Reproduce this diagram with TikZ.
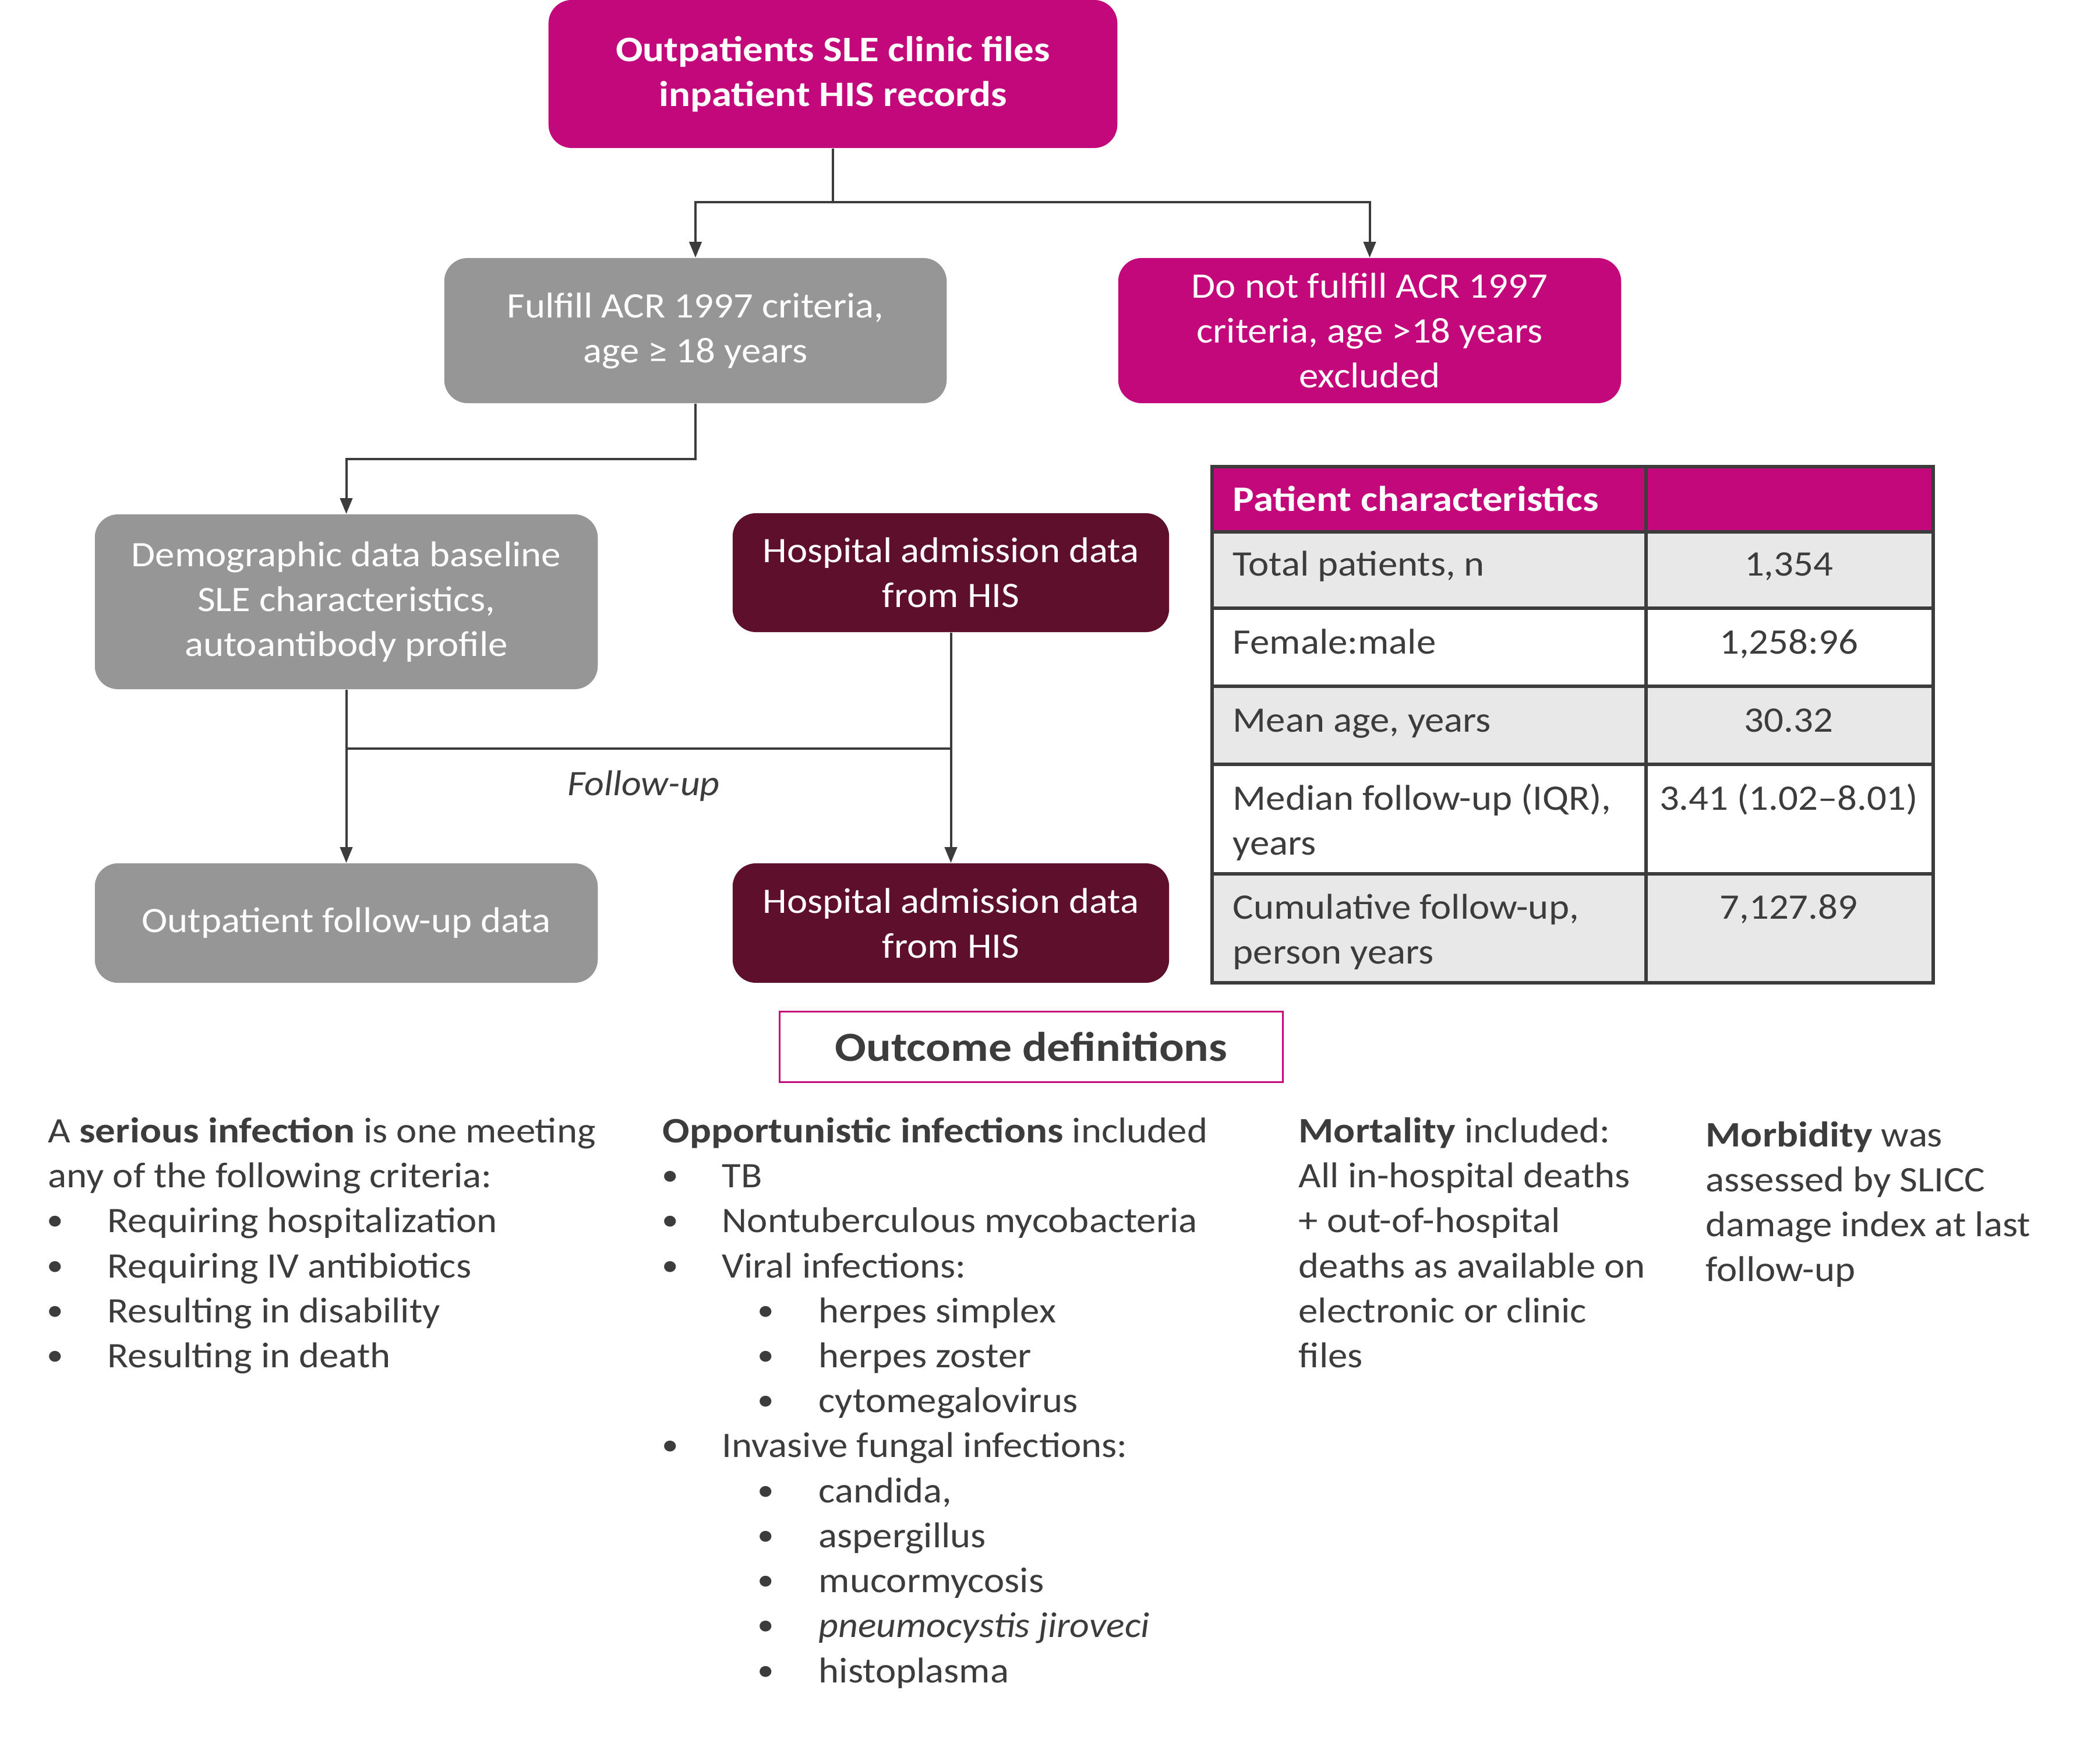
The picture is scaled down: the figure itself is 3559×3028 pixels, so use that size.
\documentclass[tikz,border=0pt]{standalone}
\usepackage{fontspec}
\setmainfont{Carlito}[UprightFeatures={FakeStretch=1.085}, BoldFeatures={FakeStretch=1.12}, ItalicFeatures={FakeStretch=1.07}, BoldItalicFeatures={FakeStretch=1.12}]
\usetikzlibrary{arrows.meta}
\definecolor{mag}{HTML}{C3087C}
\definecolor{boxgray}{HTML}{969696}
\definecolor{maroon}{HTML}{5E0F2C}
\definecolor{ink}{HTML}{3C3C3C}
\definecolor{rowgray}{HTML}{E8E8E8}
\newcommand{\bodyfont}{\fontsize{17.5}{21.9}\selectfont}
\newcommand{\bul}{\raisebox{0.05em}{\fontsize{15}{15}\selectfont •}}
\begin{document}
\begin{tikzpicture}[x=0.01cm,y=-0.01cm,
  fbox/.style={rounded corners=0.4cm, inner sep=0pt, align=center, text=white, font=\bodyfont},
  graybox/.style={fbox, fill=boxgray},
  magbox/.style={fbox, fill=mag},
  darkbox/.style={fbox, fill=maroon},
  conn/.style={draw=ink, line width=0.04cm},
  arr/.style={conn, -{Triangle[length=0.27cm,width=0.21cm]}},
  txtline/.style={font=\bodyfont, text=ink, anchor=base west, inner sep=0pt},
  valtxt/.style={font=\bodyfont, text=ink, anchor=base, inner sep=0pt},
  tabline/.style={draw=ink, line width=0.06cm},
]
\useasboundingbox (0,0) rectangle (3559,3028);
\fill[white] (0,0) rectangle (3559,3028);

% flow boxes
\node[magbox, minimum width=9.76cm, minimum height=2.54cm, font=\bodyfont\bfseries] (top) at (1430,127) {Outpatients SLE clinic files\\inpatient HIS records};
\node[graybox, minimum width=8.62cm, minimum height=2.49cm] (b1) at (1194,567.5) {Fulfill ACR 1997 criteria,\\age ≥ 18 years};
\node[magbox, minimum width=8.63cm, minimum height=2.49cm] (b2) at (2351.5,567.5) {Do not fulfill ACR 1997\\criteria, age >18 years\\excluded};
\node[graybox, minimum width=8.63cm, minimum height=3.0cm] (demo) at (594.5,1033) {Demographic data baseline\\SLE characteristics,\\autoantibody profile};
\node[darkbox, minimum width=7.49cm, minimum height=2.04cm] (hosp1) at (1632.5,983) {Hospital admission data\\from HIS};
\node[graybox, minimum width=8.63cm, minimum height=2.05cm] (out) at (594.5,1584.5) {Outpatient follow-up data};
\node[darkbox, minimum width=7.49cm, minimum height=2.05cm] (hosp2) at (1632.5,1584.5) {Hospital admission data\\from HIS};

% connectors
\coordinate (j1) at (1430,347);
\coordinate (j2) at (1194,788);
\coordinate (j3) at (594.5,1285);
\coordinate (j4) at (1632.5,1285);
\draw[arr] (top.south) -- (j1) -| (b1.north);
\draw[arr] (j1) -| (b2.north);
\draw[arr] (b1.south) -- (j2) -| (demo.north);
\draw[conn] (demo.south) -- (j3);
\draw[conn] (hosp1.south) -- (j4);
\draw[conn] (j3) -- (j4);
\draw[arr] (j3) -- (out.north);
\draw[arr] (j4) -- (hosp2.north);
\node[valtxt, font=\bodyfont\itshape] (fu) at (1105,1366) {Follow-up};

% table
\fill[mag] (2081,801) rectangle (3319,913);
\fill[rowgray] (2081,913) rectangle (3319,1044);
\fill[rowgray] (2081,1178) rectangle (3319,1312);
\fill[rowgray] (2081,1500) rectangle (3319,1687);
\draw[tabline] (2081,801) rectangle (3319,1687);
\foreach \yy in {913,1044,1178,1312,1500} \draw[tabline] (2081,\yy) -- (3319,\yy);
\draw[tabline] (2826,801) -- (2826,1687);
\node[txtline, text=white, font=\bodyfont\bfseries] (th) at (2116,878) {Patient characteristics};
\node[txtline] (t1) at (2116,989) {Total patients, n};
\node[valtxt] (v1) at (3071,989) {1,354};
\node[txtline] (t2) at (2116,1123) {Female:male};
\node[valtxt] (v2) at (3071,1123) {1,258:96};
\node[txtline] (t3) at (2116,1257) {Mean age, years};
\node[valtxt] (v3) at (3071,1257) {30.32};
\node[txtline] (t4a) at (2116,1391) {Median follow-up (IQR),};
\node[txtline] (t4b) at (2116,1468) {years};
\node[valtxt] (v4) at (3071,1391) {3.41 (1.02–8.01)};
\node[txtline] (t5a) at (2116,1577) {Cumulative follow-up,};
\node[txtline] (t5b) at (2116,1654) {person years};
\node[valtxt] (v5) at (3071,1577) {7,127.89};

% outcome definitions
\node[draw=mag, line width=0.03cm, minimum width=8.63cm, minimum height=1.2cm, inner sep=0pt, font=\fontsize{20.2}{24}\selectfont\bfseries, text=ink] (od) at (1770.5,1797) {Outcome definitions};

% column 1
\node[txtline] (c1a) at (82,1961) {A \textbf{serious infection} is one meeting};
\node[txtline] (c1b) at (82,2038) {any of the following criteria:};
\foreach \yy/\tx [count=\i] in {2115/Requiring hospitalization,2193/Requiring IV antibiotics,2270/Resulting in disability,2347/Resulting in death}{
  \node[txtline] (c1d\i) at (80,\yy) {\bul};
  \node[txtline] (c1t\i) at (184,\yy) {\tx};
}

% column 2
\node[txtline] (c2a) at (1137,1961) {\textbf{Opportunistic infections} included};
\foreach \yy/\tx [count=\i] in {2038/TB,2115/Nontuberculous mycobacteria,2193/Viral infections:,2501/Invasive fungal infections:}{
  \node[txtline] (c2d\i) at (1136,\yy) {\bul};
  \node[txtline] (c2t\i) at (1239,\yy) {\tx};
}
\foreach \yy/\tx [count=\i] in {2270/herpes simplex,2347/herpes zoster,2424/cytomegalovirus,2579/{candida,},2656/aspergillus,2733/mucormycosis,2810/\textit{pneumocystis jiroveci},2888/histoplasma}{
  \node[txtline] (c2s\i) at (1300,\yy) {\bul};
  \node[txtline] (c2u\i) at (1405,\yy) {\tx};
}

% column 3
\foreach \yy/\tx [count=\i] in {1961/{\textbf{Mortality} included:},2038/All in-hospital deaths,2115/+ out-of-hospital,2193/deaths as available on,2270/electronic or clinic,2347/files}{
  \node[txtline] (c3\i) at (2229,\yy) {\tx};
}

% column 4
\foreach \yy/\tx [count=\i] in {1968/{\textbf{Morbidity} was},2045/assessed by SLICC,2122/damage index at last,2199/follow-up}{
  \node[txtline] (c4\i) at (2928,\yy) {\tx};
}
\end{tikzpicture}
\end{document}
